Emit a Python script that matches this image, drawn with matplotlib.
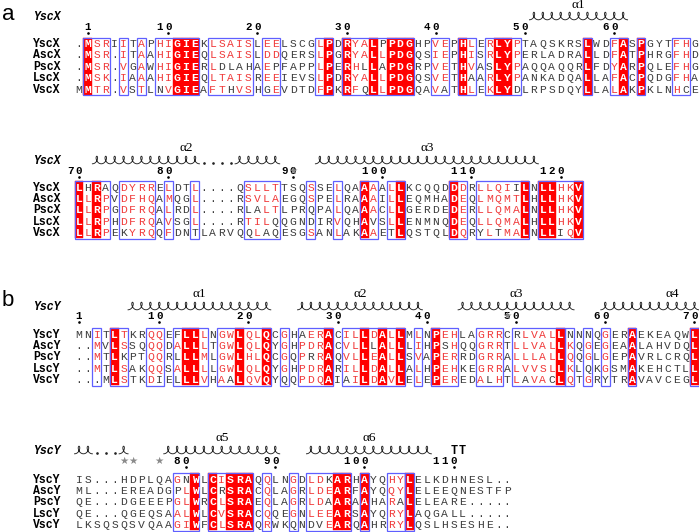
import numpy as np
import matplotlib
matplotlib.use("Agg")
import matplotlib.pyplot as plt
from matplotlib.patches import Rectangle
from collections import Counter

# ---------------- alignment data ----------------
x_names = ["YscX", "AscX", "PscX", "LscX", "VscX"]
x_block1 = [
    ".MSRIITAPHIGIEKLSAISLEELSCGLPDRYALPPDGHPVEPHLERLYPTAQSKRSLWDFASPGYTFHG",
    ".MSR.ITAAHIGIEQLSAISLDDQERSLPGRYALLPDGQSIEPHISRLYPERLADRALLDFATPHRGFHD",
    ".MSR.VGAWHIGIERLDLAHAEPFAPPLPERHLLAPDGRPVETHVASLYPAQQAQQRLFDYARPQLEFHG",
    ".MSK.IAAAHIGIEQLTAISREEIEVSLPDRYALLPDGQSVETHAARLYPANKADQALLAFACPQDGFHA",
    "MMTR.VSTLNVGIEAFTHVSHGEVDTDFPKRFQLLPDGQAVATHLEKLYDLRPSDQYLLALAKPKLNHCE",
]
x_block2 = [
    "LHRAQDYRRELDTL....QSLLTTSQSSELQAAAALLKCQQDDDRLLQIILNLLHKV",
    "LLRPVDFHQAMQGL....RSVLAEGQSPELRAAAILLEQMHADEQLMQMTLHLLHKV",
    "LLRPGDFRQALRDL....RLALTLPRQPALQAAACLLGERDEDERLLQMALNLLHKV",
    "LLRPHDFRQAVSGL....RTILQQGNDIRVQHAVSLLENMNQDEQLLQMALHLLHKV",
    "LLRPEKYRQQFDNTLARVQQLAQESGSANLAKAAETLQSTQLDQRYLTMALNLLIQV",
]
y_names = ["YscY", "AscY", "PscY", "LscY", "VscY"]
y_block1 = [
    "MNITLTKRQQEFLLLNGWLQLQCGHAERACILLDALLMLNPEHLAGRRCRLVALLNNNQGERAEKEAQWL",
    "..MVLSSQQQDALLLTGWLQLQYGHPDRACVLLLALLLIHPSHQQGRRTLLVALLKQGEGEAALAHVDQL",
    "..MTLKPTQQRLLLMLGWLHLQCGQPRRAQVLLEALLSVAPERRDGRRALLLALLQQGLGEPAVRLCRQL",
    "..MTLSAKQQSALLLLGWLQLQYGHPDRARILLDALLALHPEHKEGRRALVVSLLKLQKGSMAKEHCTLL",
    "...MLSTKDIELLLVHAALQVQYQQPDQAIAILDAVLELEPEREDALHTLAVACLQTGRYTRAVAVCEGL",
]
y_block2 = [
    "IS...HDPLQAGNWLCISRAQQLNGDLDKARHAYQHYLELKDHNESL..",
    "ML...EREADGPLWLCRSRACQLAGRLDEARFAYQQYLELEEQNESTFP",
    "QE...DGEEEPGLWRCLSRAEQLAGRLDAARAAHARALELEARE.....",
    "QE...QGEQSAALWLCVSRACQQEGNLEEARSAYQRYLAQGALL.....",
    "LKSQSQSVQAAGIWFCLSRAQRWKQNDVEARQAHRRYLQSLHSESHE..",
]

# framed (similar) column runs, by alignment column
x_boxes1 = [(1, 3), (5, 5), (7, 7), (9, 13), (15, 19), (21, 22), (27, 28), (30, 37),
            (40, 41), (43, 44), (46, 49), (57, 57), (60, 61), (63, 63), (67, 68)]
x_boxes2 = [(0, 3), (5, 8), (10, 10), (13, 13), (19, 22), (26, 26), (29, 29), (32, 33),
            (35, 36), (42, 43), (45, 50), (52, 56)]
y_boxes1 = [(2, 2), (4, 5), (8, 9), (11, 14), (16, 21), (23, 23), (25, 28), (30, 36),
            (38, 38), (40, 42), (45, 47), (49, 54), (55, 55), (57, 57), (59, 59),
            (62, 62), (69, 69)]
y_boxes2 = [(11, 13), (15, 19), (21, 21), (24, 24), (26, 30), (32, 32), (35, 36), (37, 37)]

# secondary structure: (label, coil segments, label column)
x_helix1 = [("α1", [(51, 61)], 56)]
x_helix2 = [("α2", [(2, 13), (18, 22)], 12), ("α3", [(27, 51)], 39)]
y_helix1 = [("α1", [(6, 21)], 13.5), ("α2", [(25, 38)], 31.5),
            ("α3", [(43, 55)], 49), ("α4", [(59, 69)], 66.5)]
y_helix2 = [("", [(0, 1), (5, 5)], 0), ("α5", [(10, 22)], 16), ("α6", [(26, 39)], 32.5)]
x_dots2 = [(14, 17)]
y_dots2 = [(2, 4)]
y_turns2 = [42, 43]
x_stars2 = [24]
y_stars1 = [48]
y_stars2 = [5, 6, 9]

# ---------------- layout ----------------
W, H = 699, 532
PITCH = 8.92
X0 = 79.0
ROW_H = 11.4
NAME_X = 33
MONO = "Liberation Mono"
RED = "#ff0000"
BLUE = "#5f5fff"
SIMRED = "#f03a3a"
GREY = "#3c3c3c"

SIM_GROUPS = ["ILMVF", "FYWH", "KRHQ", "DENQ", "STAG", "P", "C"]


def similar(a, b):
    return a == b or any(a in g and b in g for g in SIM_GROUPS)


fig = plt.figure(figsize=(W / 100, H / 100), dpi=100)
ax = fig.add_axes([0, 0, 1, 1])
ax.set_xlim(0, W)
ax.set_ylim(H, 0)
ax.axis("off")


def colx(c):
    return X0 + c * PITCH


def coil(c0, c1, y):
    n = c1 - c0 + 1
    u = np.linspace(0, n, n * 60)
    left = colx(c0) - PITCH / 2
    xs = left + PITCH * u + 2.6 * np.sin(2 * np.pi * u)
    ys = y + 3.8 - 3.8 * (1 - np.cos(2 * np.pi * u))
    ax.plot(xs, ys, color="#222222", lw=0.65)


def draw_block(names, seqs, boxes, top, header_y, num_y, start_pos,
               helices, dots=(), turns=(), stars=(), label_y=None):
    ncol = len(seqs[0])
    rows_y = [top + i * ROW_H for i in range(len(seqs))]
    y_lo = rows_y[0] - ROW_H / 2
    y_hi = rows_y[-1] + ROW_H / 2
    boxed = set()
    for b0, b1 in boxes:
        boxed.update(range(b0, b1 + 1))

    # identical columns -> red background
    ident = []
    for c in range(ncol):
        col = [s[c] for s in seqs]
        ident.append(col[0] != "." and all(ch == col[0] for ch in col))
        if ident[c]:
            ax.add_patch(Rectangle((colx(c) - PITCH / 2, y_lo), PITCH, y_hi - y_lo,
                                   facecolor=RED, edgecolor=RED, lw=0.3, zorder=1))
    for b0, b1 in boxes:
        ax.add_patch(Rectangle((colx(b0) - PITCH / 2, y_lo - 0.3),
                               (b1 - b0 + 1) * PITCH, y_hi - y_lo + 0.6,
                               facecolor="none", edgecolor=BLUE, lw=0.9, zorder=3))

    for r, (name, s) in enumerate(zip(names, seqs)):
        y = rows_y[r]
        ax.text(NAME_X, y + 3.6, name, family=MONO, fontsize=8.3, fontweight="bold",
                color="black", ha="left", va="baseline")
        for c, ch in enumerate(s):
            col = [q[c] for q in seqs if q[c] != "."]
            if ident[c]:
                color, weight = "white", "bold"
            elif c in boxed and ch != ".":
                cons = Counter(col).most_common(1)[0][0]
                color = SIMRED if similar(ch, cons) else GREY
                weight = "normal"
            else:
                color, weight = GREY, "normal"
            ax.text(colx(c), y + 3.6, ch, family=MONO, fontsize=8.2, color=color,
                    fontweight=weight, ha="center", va="baseline", zorder=4)

    # header name and secondary structure
    ax.text(NAME_X, header_y + 3.5, names[0], family=MONO, fontsize=8.3,
            fontweight="bold", style="italic", ha="left", va="baseline")
    for lab, segs, lc in helices:
        for c0, c1 in segs:
            coil(c0, c1, header_y)
        if lab:
            ax.text(colx(lc), label_y, lab, family="Liberation Serif", fontsize=9.5,
                    ha="center", va="center")
    for c0, c1 in dots:
        cs = np.arange(c0, c1 + 1)
        ax.plot(colx(cs), np.full(len(cs), header_y + 3.3), ls="none", marker="o",
                ms=0.9, color="#222222")
    for c in turns:
        ax.text(colx(c), header_y + 3.6, "T", family=MONO, fontsize=8.5,
                fontweight="bold", ha="center", va="baseline")

    # numbering from the reference (first) sequence
    pos = start_pos
    for c, ch in enumerate(seqs[0]):
        if ch == ".":
            continue
        if pos == 1 or pos % 10 == 0:
            digits = str(pos)
            for k, d in enumerate(digits):
                ax.text(colx(c - (len(digits) - 1 - k)), num_y + 3, d, family=MONO,
                        fontsize=7.8, fontweight="bold", ha="center", va="baseline")
            ax.plot([colx(c)], [num_y + 6.2], ls="none", marker="o", ms=0.9,
                    color="black")
        pos += 1
    for c in stars:
        ax.text(colx(c), num_y, "★", family="DejaVu Sans", fontsize=7.5,
                color="#8a8a8a", ha="center", va="center", zorder=5)
    return pos


# panel a
ax.text(2, 15, "a", family="Liberation Sans", fontsize=16, ha="left", va="center")
p = draw_block(x_names, x_block1, x_boxes1, top=43.5, header_y=16, num_y=27,
               start_pos=1, helices=x_helix1, label_y=5)
draw_block(x_names, x_block2, x_boxes2, top=187, header_y=160, num_y=171,
           start_pos=p, helices=x_helix2, dots=x_dots2, stars=x_stars2, label_y=148)

# panel b
ax.text(2, 301, "b", family="Liberation Sans", fontsize=16, ha="left", va="center")
p = draw_block(y_names, y_block1, y_boxes1, top=334, header_y=306, num_y=316,
               start_pos=1, helices=y_helix1, stars=y_stars1, label_y=294)
draw_block(y_names, y_block2, y_boxes2, top=479, header_y=450, num_y=461,
           start_pos=p, helices=y_helix2, dots=y_dots2, turns=y_turns2,
           stars=y_stars2, label_y=438)

fig.savefig("out.png", dpi=100, facecolor="white")
